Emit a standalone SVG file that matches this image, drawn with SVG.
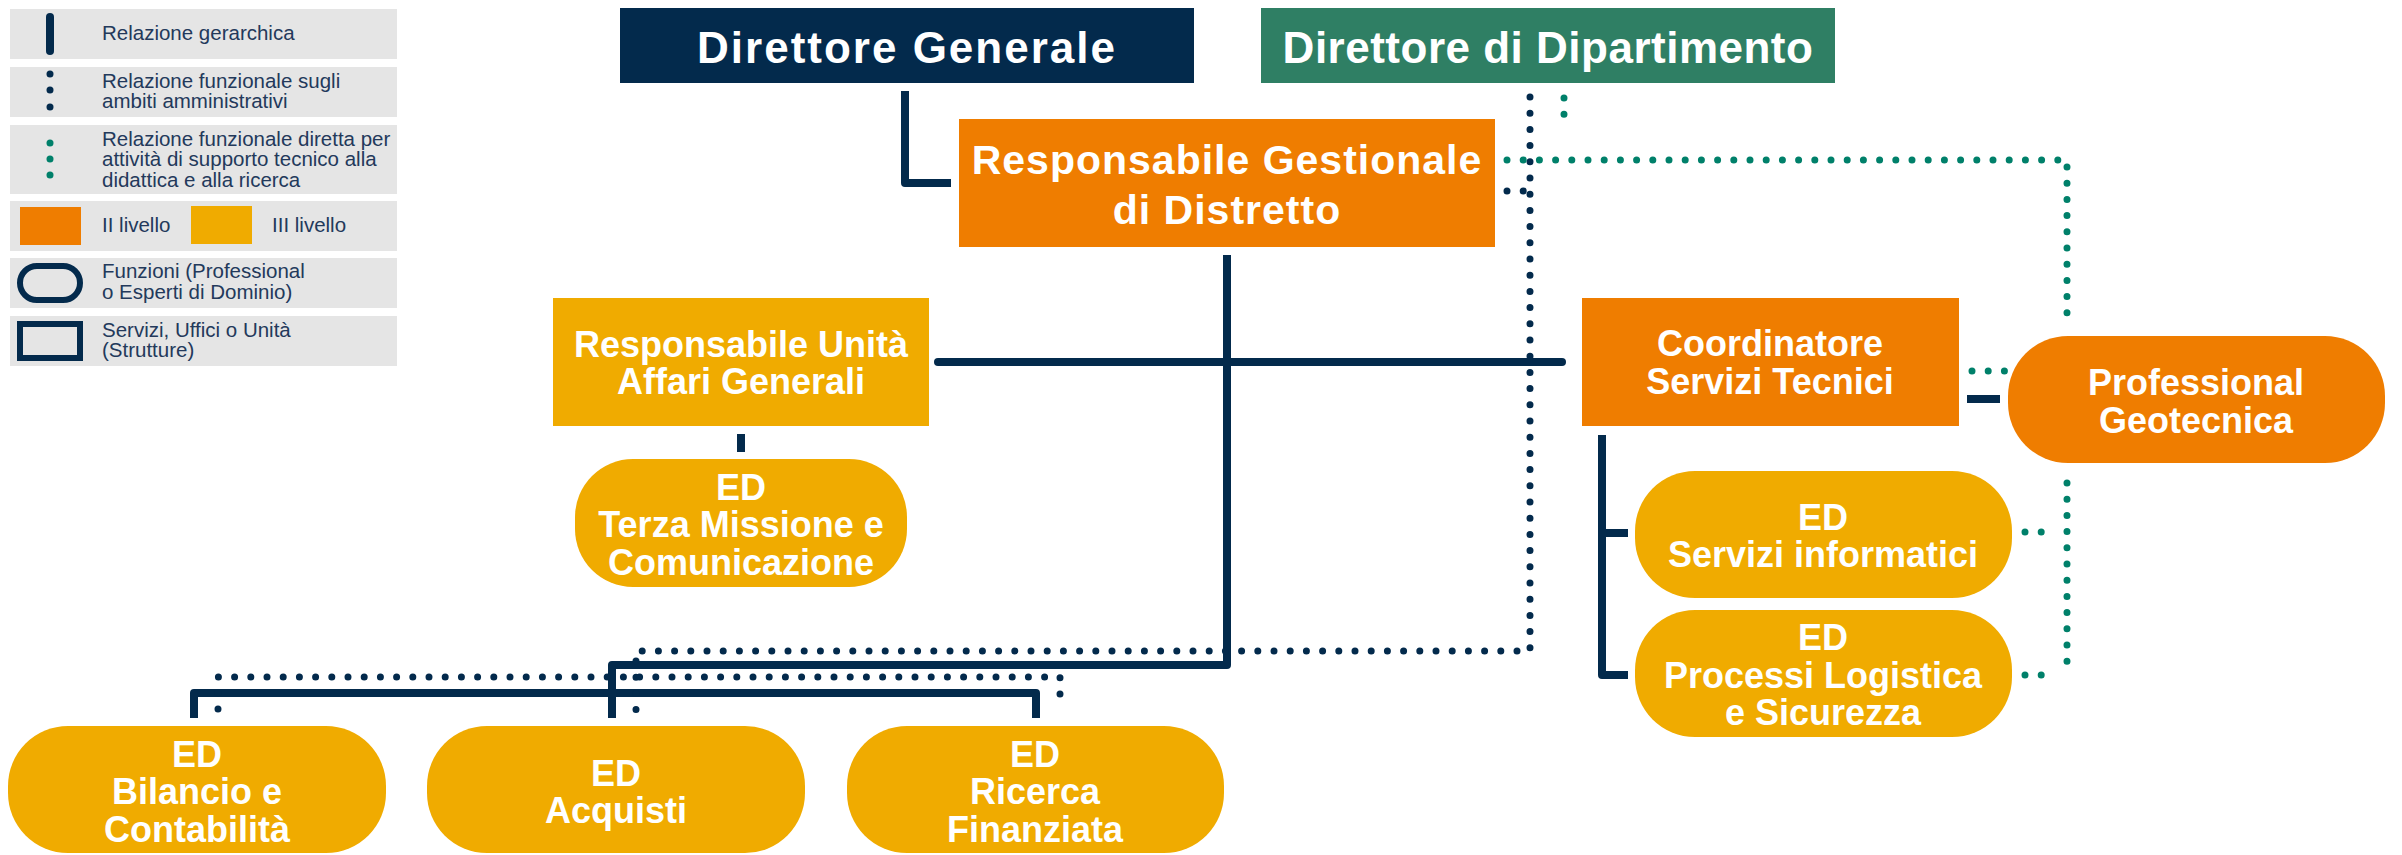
<svg xmlns="http://www.w3.org/2000/svg" width="2402" height="855" viewBox="0 0 2402 855">
<style>
.lg{fill:#e5e5e5}
.lt{font-family:"Liberation Sans",Arial,sans-serif;font-size:20.5px;fill:#23395b}
.nt{font-family:"Liberation Sans",Arial,sans-serif;font-weight:bold;fill:#ffffff;text-anchor:middle}
.t44{font-size:44px}
.t41{font-size:41px;letter-spacing:1px}
.t36{font-size:36px}
.navy{fill:#032a4c}
.green{fill:#2f7f64}
.l2{fill:#ef7d00}
.l3{fill:#f0ab00}
.hier{stroke:#032a4c;stroke-width:8;fill:none;stroke-linejoin:round}
.adm{stroke:#032a4c;stroke-width:7;fill:none;stroke-dasharray:0 16.2;stroke-linecap:round}
.tec{stroke:#00806a;stroke-width:7;fill:none;stroke-dasharray:0 16.2;stroke-linecap:round}
</style>

<g id="legend">
  <rect class="lg" x="10" y="9" width="387" height="50"/>
  <line x1="50" y1="17" x2="50" y2="51" stroke="#032a4c" stroke-width="8" stroke-linecap="round"/>
  <text class="lt" x="102" y="40">Relazione gerarchica</text>

  <rect class="lg" x="10" y="67" width="387" height="50"/>
  <circle cx="50" cy="74" r="3.5" fill="#032a4c"/>
  <circle cx="50" cy="90" r="3.5" fill="#032a4c"/>
  <circle cx="50" cy="107" r="3.5" fill="#032a4c"/>
  <text class="lt" x="102" y="88">Relazione funzionale sugli</text>
  <text class="lt" x="102" y="108">ambiti amministrativi</text>

  <rect class="lg" x="10" y="125" width="387" height="69"/>
  <circle cx="50" cy="143" r="3.5" fill="#00806a"/>
  <circle cx="50" cy="159" r="3.5" fill="#00806a"/>
  <circle cx="50" cy="175" r="3.5" fill="#00806a"/>
  <text class="lt" x="102" y="146">Relazione funzionale diretta per</text>
  <text class="lt" x="102" y="166">attività di supporto tecnico alla</text>
  <text class="lt" x="102" y="187">didattica e alla ricerca</text>

  <rect class="lg" x="10" y="201" width="387" height="50"/>
  <rect class="l2" x="20" y="207" width="61" height="38"/>
  <text class="lt" x="102" y="232">II livello</text>
  <rect class="l3" x="191" y="206" width="61" height="38"/>
  <text class="lt" x="272" y="232">III livello</text>

  <rect class="lg" x="10" y="258" width="387" height="50"/>
  <rect x="20" y="266" width="60" height="34" rx="17" fill="none" stroke="#032a4c" stroke-width="6"/>
  <text class="lt" x="102" y="278">Funzioni (Professional</text>
  <text class="lt" x="102" y="299">o Esperti di Dominio)</text>

  <rect class="lg" x="10" y="316" width="387" height="50"/>
  <rect x="20" y="324" width="60" height="34" fill="none" stroke="#032a4c" stroke-width="6"/>
  <text class="lt" x="102" y="337">Servizi, Uffici o Unità</text>
  <text class="lt" x="102" y="357">(Strutture)</text>
</g>

<g id="connectors">
  <!-- hierarchical -->
  <path class="hier" d="M905 91 V183 H951"/>
  <path class="hier" d="M1227 255 V665 H612 V718"/>
  <path class="hier" d="M194 718 V693 H1036 V718"/>
  <path class="hier" d="M938 362 H1562" stroke-linecap="round"/>
  <path class="hier" d="M741 434 V452"/>
  <path class="hier" d="M1628 533 H1602 M1602 435 V675 H1628"/>
  <path class="hier" d="M1967 399 H2000"/>
  <!-- administrative functional -->
  <path class="adm" d="M1530 97 V651 H636 V718"/>
  <path class="adm" d="M1507 191 H1530"/>
  <path class="adm" d="M218 709 V677 H1060 V709"/>
  <!-- technical functional -->
  <path class="tec" d="M1564 98 V130"/>
  <path class="tec" d="M1507 160 H2067 V322"/>
  <path class="tec" d="M2067 483 V663"/>
  <path class="tec" d="M1972 371 H2005"/>
  <path class="tec" d="M2025 532 H2042"/>
  <path class="tec" d="M2025 675 H2042"/>
</g>

<g id="direttore-generale">
  <rect class="navy" x="620" y="8" width="574" height="75"/>
  <text class="nt t44" x="907" y="63" letter-spacing="2">Direttore Generale</text>
</g>

<g id="direttore-dipartimento">
  <rect class="green" x="1261" y="8" width="574" height="75"/>
  <text class="nt t44" x="1548" y="63" letter-spacing="0.5">Direttore di Dipartimento</text>
</g>

<g id="responsabile-gestionale">
  <rect class="l2" x="959" y="119" width="536" height="128"/>
  <text class="nt t41" x="1227" y="174">Responsabile Gestionale</text>
  <text class="nt t41" x="1227" y="224">di Distretto</text>
</g>

<g id="affari-generali">
  <rect class="l3" x="553" y="298" width="376" height="128"/>
  <text class="nt t36" x="741" y="357">Responsabile Unità</text>
  <text class="nt t36" x="741" y="394">Affari Generali</text>
</g>

<g id="terza-missione">
  <rect class="l3" x="575" y="459" width="332" height="128" rx="58"/>
  <text class="nt t36" x="741" y="500">ED</text>
  <text class="nt t36" x="741" y="537">Terza Missione e</text>
  <text class="nt t36" x="741" y="575">Comunicazione</text>
</g>

<g id="coordinatore">
  <rect class="l2" x="1582" y="298" width="377" height="128"/>
  <text class="nt t36" x="1770" y="356">Coordinatore</text>
  <text class="nt t36" x="1770" y="394">Servizi Tecnici</text>
</g>

<g id="geotecnica">
  <rect class="l2" x="2008" y="336" width="377" height="127" rx="60"/>
  <text class="nt t36" x="2196" y="395">Professional</text>
  <text class="nt t36" x="2196" y="433">Geotecnica</text>
</g>

<g id="servizi-informatici">
  <rect class="l3" x="1635" y="471" width="377" height="127" rx="60"/>
  <text class="nt t36" x="1823" y="530">ED</text>
  <text class="nt t36" x="1823" y="567">Servizi informatici</text>
</g>

<g id="processi-logistica">
  <rect class="l3" x="1635" y="610" width="377" height="127" rx="60"/>
  <text class="nt t36" x="1823" y="650">ED</text>
  <text class="nt t36" x="1823" y="688">Processi Logistica</text>
  <text class="nt t36" x="1823" y="725">e Sicurezza</text>
</g>

<g id="bilancio">
  <rect class="l3" x="8" y="726" width="378" height="127" rx="60"/>
  <text class="nt t36" x="197" y="767">ED</text>
  <text class="nt t36" x="197" y="804">Bilancio e</text>
  <text class="nt t36" x="197" y="842">Contabilità</text>
</g>

<g id="acquisti">
  <rect class="l3" x="427" y="726" width="378" height="127" rx="60"/>
  <text class="nt t36" x="616" y="786">ED</text>
  <text class="nt t36" x="616" y="823">Acquisti</text>
</g>

<g id="ricerca-finanziata">
  <rect class="l3" x="847" y="726" width="377" height="127" rx="60"/>
  <text class="nt t36" x="1035" y="767">ED</text>
  <text class="nt t36" x="1035" y="804">Ricerca</text>
  <text class="nt t36" x="1035" y="842">Finanziata</text>
</g>
</svg>
